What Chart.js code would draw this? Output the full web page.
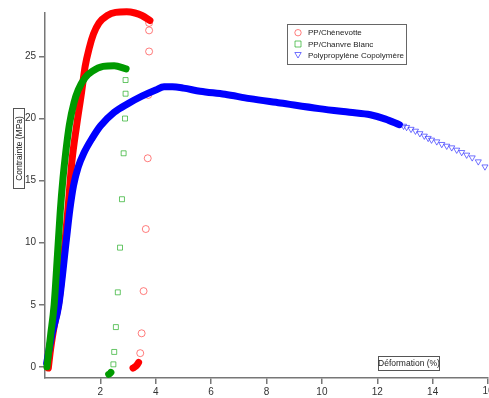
<!DOCTYPE html>
<html>
<head>
<meta charset="utf-8">
<script src="https://cdn.jsdelivr.net/npm/chart.js@4/dist/chart.umd.min.js"></script>
<style>
    body { margin: 0; background: #fff; }
    #wrap { position: relative; width: 489px; height: 398px; }
</style>
</head>
<body>
<div id="wrap"><canvas id="chart"></canvas></div>
<script>
// Courbes contrainte / déformation
const redX = [0.12, 0.2, 0.35, 0.5, 0.72, 0.84, 0.97, 1.14, 1.32, 1.45, 1.6, 1.75, 1.95, 2.25, 2.55, 2.95, 3.25, 3.5, 3.79];
const redY = [-0.1, 1.4, 3.5, 5.2, 10, 13, 16.5, 19.4, 22.1, 24.2, 25.7, 26.8, 27.7, 28.3, 28.55, 28.6, 28.5, 28.3, 27.9];
const redDropX = [3.76, 3.76, 3.76, 3.73, 3.71, 3.64, 3.56, 3.49, 3.44];
const redDropY = [27.7, 27.1, 25.4, 21.9, 16.8, 11.1, 6.1, 2.7, 1.1];
const redEndX = [3.18, 3.25, 3.32, 3.38];
const redEndY = [-0.1, 0.0, 0.15, 0.35];

const greenX = [0.07, 0.2, 0.33, 0.45, 0.55, 0.65, 0.75, 0.88, 1.05, 1.2, 1.45, 1.7, 2.1, 2.5, 2.93];
const greenY = [0, 2.5, 5, 9, 12.5, 15.2, 17.3, 19.5, 21.3, 22.3, 23.3, 23.8, 24.2, 24.25, 24.0];
const greenDropX = [2.91, 2.91, 2.89, 2.84, 2.78, 2.71, 2.63, 2.56, 2.5, 2.47];
const greenDropY = [23.1, 22.0, 20.0, 17.2, 13.5, 9.6, 6.0, 3.2, 1.2, 0.2];
const greenEndX = [2.3, 2.34, 2.38];
const greenEndY = [-0.6, -0.55, -0.45];

const blueX = [0.06, 0.25, 0.5, 0.76, 0.9, 1.03, 1.2, 1.4, 1.7, 2.0, 2.5, 3.0, 3.5, 4.0, 4.3, 4.6, 5.0, 5.6, 6.5, 7.4, 8.5, 9.9, 11.0, 11.75, 12.3, 12.8];
const blueY = [0.3, 2.6, 5, 10, 12.7, 14.6, 16.1, 17.2, 18.4, 19.4, 20.5, 21.2, 21.8, 22.3, 22.55, 22.55, 22.45, 22.2, 21.95, 21.6, 21.25, 20.8, 20.5, 20.3, 19.95, 19.5];
const blueTailX = [12.95, 13.06, 13.22, 13.38, 13.54, 13.7, 13.84, 13.96, 14.15, 14.33, 14.51, 14.69, 14.87, 15.05, 15.23, 15.43, 15.65, 15.89];
const blueTailY = [19.4, 19.3, 19.15, 19.0, 18.8, 18.6, 18.42, 18.28, 18.14, 17.93, 17.79, 17.66, 17.47, 17.28, 17.07, 16.85, 16.53, 16.12];

const xTicks = [2, 4, 6, 8, 10, 12, 14, 16];
const yTicks = [0, 5, 10, 15, 20, 25];
const seriesNames = ["PP/Chènevotte", "PP/Chanvre Blanc", "Polypropylène Copolymère"];

const FONT = "'Liberation Sans', Arial, sans-serif";

function pts(xs, ys) {
    return xs.map((x, i) => ({ x: x, y: ys[i] }));
}

function band(xs, ys, color) {
    return {
        data: pts(xs, ys),
        borderColor: color,
        borderWidth: 7,
        borderCapStyle: "round",
        borderJoinStyle: "round",
        cubicInterpolationMode: "monotone",
        pointRadius: 0,
        showLine: true,
        fill: false,
        clip: false
    };
}

function markers(xs, ys, color, style) {
    return {
        data: pts(xs, ys),
        showLine: false,
        pointStyle: style,
        pointRotation: style === "triangle" ? 180 : 0,
        pointRadius: 3.5,
        pointBorderWidth: 1,
        pointBorderColor: color,
        pointBackgroundColor: "rgba(0,0,0,0)",
        clip: false
    };
}

const RED = "#ff0000", GREEN = "#009a00", BLUE = "#0000ff";
const RED_L = "rgba(255,40,40,0.6)", GREEN_L = "rgba(0,160,0,0.6)", BLUE_L = "rgba(40,40,255,0.65)";

// Titres encadrés, légende et dernier label de l'axe X
const annotations = {
    id: "annotations",
    afterDraw(chart) {
        const ctx = chart.ctx;
        ctx.save();
        ctx.strokeStyle = "#555";
        ctx.lineWidth = 1;
        ctx.fillStyle = "#222";
        ctx.font = "8.5px " + FONT;

        // titre axe Y
        ctx.strokeRect(13.5, 108.5, 11, 80);
        ctx.save();
        ctx.translate(19, 148.5);
        ctx.rotate(-Math.PI / 2);
        ctx.textAlign = "center";
        ctx.textBaseline = "middle";
        ctx.fillText("Contrainte (MPa)", 0, 0.5);
        ctx.restore();

        // titre axe X
        ctx.strokeRect(378.5, 356.5, 61, 14);
        ctx.textAlign = "center";
        ctx.textBaseline = "middle";
        ctx.fillText("Déformation (%)", 409, 364);

        // label 16 coupé au bord comme sur l'original
        const xs = chart.scales.x;
        ctx.font = "10px " + FONT;
        ctx.fillStyle = "#333";
        ctx.textBaseline = "top";
        ctx.fillText(String(xTicks[xTicks.length - 1]), xs.getPixelForValue(xTicks[xTicks.length - 1]), xs.top + 8);

        // légende
        ctx.font = "8px " + FONT;
        ctx.textBaseline = "middle";
        ctx.strokeStyle = "#666";
        ctx.strokeRect(287.5, 24.5, 119, 40);
        ctx.textAlign = "left";
        const rows = [32.7, 44, 55];
        const cols = [RED_L, GREEN_L, BLUE_L];
        const mx = 298;
        rows.forEach((ry, i) => {
            ctx.strokeStyle = cols[i];
            ctx.beginPath();
            if (i === 0) {
                ctx.arc(mx, ry, 3.2, 0, Math.PI * 2);
            } else if (i === 1) {
                ctx.rect(mx - 3, ry - 3, 6, 6);
            } else {
                ctx.moveTo(mx - 3.2, ry - 2.5);
                ctx.lineTo(mx + 3.2, ry - 2.5);
                ctx.lineTo(mx, ry + 3);
                ctx.closePath();
            }
            ctx.stroke();
            ctx.fillStyle = "#222";
            ctx.fillText(seriesNames[i], 308, ry + 0.5);
        });
        ctx.restore();
    }
};

new Chart(document.getElementById("chart"), {
    type: "scatter",
    data: {
        datasets: [
            band(greenX, greenY, GREEN),
            markers(greenDropX, greenDropY, GREEN_L, "rect"),
            band(greenEndX, greenEndY, GREEN),
            band(blueX, blueY, BLUE),
            markers(blueTailX, blueTailY, BLUE_L, "triangle"),
            band(redX, redY, RED),
            markers(redDropX, redDropY, RED_L, "circle"),
            band(redEndX, redEndY, RED)
        ]
    },
    options: {
        responsive: true,
        maintainAspectRatio: false,
        animation: false,
        layout: { autoPadding: false, padding: { top: 13, right: 1, left: 0, bottom: 0 } },
        plugins: {
            legend: { display: false },
            tooltip: { enabled: false }
        },
        scales: {
            x: {
                type: "linear",
                min: 0,
                max: 16,
                afterBuildTicks: (s) => { s.ticks = xTicks.map(v => ({ value: v })); },
                ticks: {
                    color: "#333",
                    font: { size: 10, family: FONT },
                    padding: 2,
                    maxRotation: 0,
                    callback: (v) => (v === xTicks[xTicks.length - 1] ? "" : v)
                },
                grid: { drawOnChartArea: false, tickLength: 6, color: "#777", lineWidth: 1.5 },
                border: { color: "#777", width: 1.5 },
                afterFit: (s) => { s.height = 20; s.paddingLeft = 0; s.paddingRight = 0; }
            },
            y: {
                type: "linear",
                min: -0.9,
                max: 28.5,
                afterBuildTicks: (s) => { s.ticks = yTicks.map(v => ({ value: v })); },
                ticks: {
                    color: "#333",
                    font: { size: 10, family: FONT },
                    padding: 3
                },
                grid: { drawOnChartArea: false, tickLength: 6, color: "#777", lineWidth: 1.5 },
                border: { color: "#777", width: 1.5 },
                afterFit: (s) => { s.width = 45; s.paddingTop = 0; s.paddingBottom = 0; }
            }
        }
    },
    plugins: [annotations]
});
</script>
</body>
</html>
